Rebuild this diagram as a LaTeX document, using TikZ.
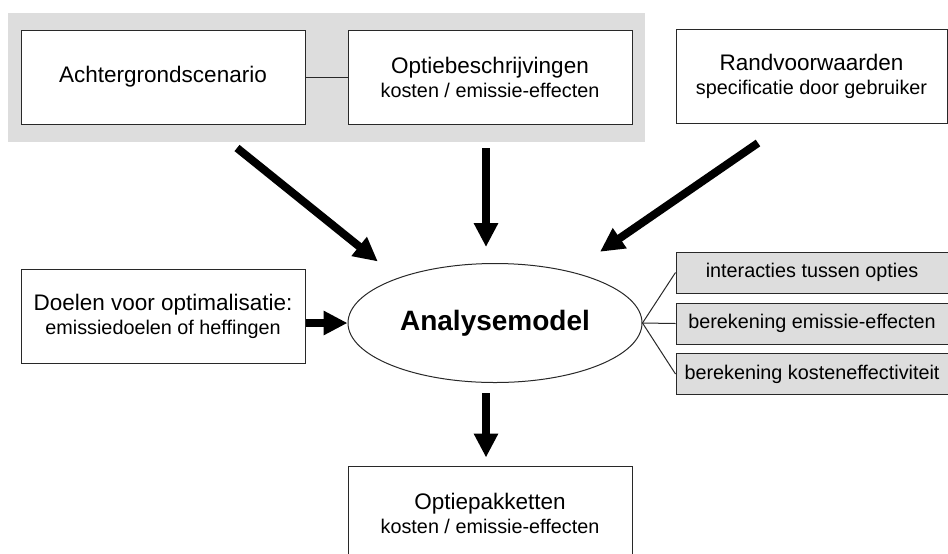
\documentclass[tikz,border=0pt]{standalone}
\usepackage{fontspec}
\setmainfont{Liberation Sans}
\usetikzlibrary{arrows.meta,shapes.geometric}
\definecolor{panelgray}{RGB}{221,221,221}
\definecolor{edgegray}{RGB}{40,40,40}
\newcommand{\subtxt}{\fontsize{9.9}{12}\selectfont}

\begin{document}
\begin{tikzpicture}[x=0.5pt, y=-0.5pt,
            box/.style={draw=edgegray, fill=white, rectangle, line width=0.5pt, minimum width=142pt, minimum height=47pt, align=center, font=\fontsize{11.25}{12}\selectfont},
            toolbox/.style={draw=edgegray, fill=panelgray, rectangle, line width=0.5pt, minimum width=136pt, minimum height=20.5pt, font=\subtxt},
            bigarrow/.style={line width=4pt, -{Triangle[length=12pt, width=11.5pt]}},
            link/.style={draw=edgegray, line width=0.5pt}]
            \useasboundingbox (0,0) rectangle (948,553);
            \fill[panelgray] (8,13) rectangle (645,142);

            \node[box] (scen) at (163,77) {Achtergrondscenario};
            \node[box] (optie) at (490,77) {Optiebeschrijvingen\\{\subtxt kosten / emissie-effecten}};
            \node[box, minimum width=135.5pt] (rand) at (811.5,76.5) {Randvoorwaarden\\{\subtxt specificatie door gebruiker}};

            \node[box] (doel) at (163,316) {Doelen voor optimalisatie:\\{\subtxt emissiedoelen of heffingen}};
            \node[draw=edgegray, line width=0.5pt, ellipse, inner sep=0pt, minimum width=147pt, minimum height=59.5pt, font=\fontsize{14}{16}\selectfont\bfseries] (model) at (495,323) {Analysemodel};

            \node[toolbox] (interact) at (812,272.5) {interacties tussen opties};
            \node[toolbox] (emis) at (812,323.5) {berekening emissie-effecten};
            \node[toolbox] (kosteff) at (812,374) {berekening kosteneffectiviteit};

            \node[box] (pakket) at (490,513) {Optiepakketten\\{\subtxt kosten / emissie-effecten}};

            \draw[link] (scen) -- (optie);
            \draw[link] (model.east) -- (interact.west);
            \draw[link] (model.east) -- (emis.west);
            \draw[link] (model.east) -- (kosteff.west);

            \coordinate (inscen) at (237,148);
            \coordinate (inoptie) at (486,148);
            \coordinate (inrand) at (758,143);
            \coordinate (outmodel) at (486,393);
            \draw[bigarrow, shorten >=13pt] (inscen) -- (model.155.6);
            \draw[bigarrow, shorten >=8pt] (inoptie) -- (inoptie |- model.north);
            \draw[bigarrow, shorten >=17.5pt] (inrand) -- (model.34.8);
            \draw[bigarrow] (doel.east |- model) -- (model.west);
            \draw[bigarrow, shorten >=4pt] (outmodel) -- (outmodel |- pakket.north);
        \end{tikzpicture}
\end{document}
